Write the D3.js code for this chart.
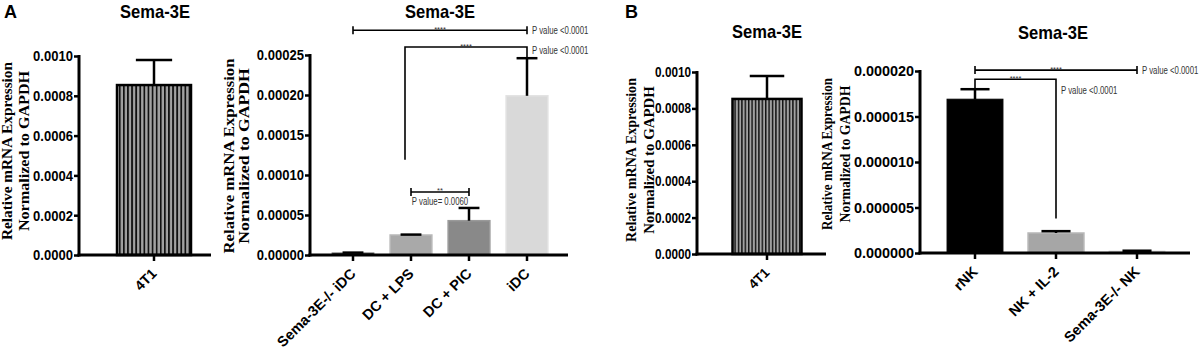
<!DOCTYPE html>
<html>
<head>
<meta charset="utf-8">
<script src="https://cdn.jsdelivr.net/npm/d3@7"></script>
<style>
  body { margin: 0; background: #fff; }
  svg { display: block; }
  text { font-family: "Liberation Sans", Arial, Helvetica, sans-serif; }
  .ylab { font-family: "Liberation Serif", "Times New Roman", serif; font-weight: bold; }
</style>
</head>
<body>
<div class="container"></div>
<script>
const WIDTH = 1199;
const HEIGHT = 352;

// A, left: 4T1
const a1Cats = ["4T1"];
const a1Vals = [0.000854];
const a1ErrTop = [0.00098];
const a1Ticks = [0, 0.0002, 0.0004, 0.0006, 0.0008, 0.0010];

// A, right: dendritic cells
const a2Cats = ["Sema-3E-/- iDC", "DC + LPS", "DC + PIC", "iDC"];
const a2Vals = [0.0000025, 0.000025, 0.0000429, 0.000199];
const a2ErrTop = [0.000003, 0.0000255, 0.0000588, 0.000246];
const a2Ticks = [0, 0.00005, 0.00010, 0.00015, 0.00020, 0.00025];
const a2Sig = [
    { from: "Sema-3E-/- iDC", to: "iDC", y: 0.000281, stars: "****", p: "P value <0.0001", pos: "right" },
    { from: "DC + LPS", to: "iDC", y: 0.00026, leg1: 0.000119, leg2: 0.000246, stars: "****", p: "P value <0.0001", pos: "rightLow" },
    { from: "DC + LPS", to: "DC + PIC", y: 0.0000788, stars: "**", p: "P value= 0.0060", pos: "below" }
];

// B, left: 4T1
const b1Cats = ["4T1"];
const b1Vals = [0.000852];
const b1ErrTop = [0.000978];
const b1Ticks = [0, 0.0002, 0.0004, 0.0006, 0.0008, 0.0010];

// B, right: NK cells
const b2Cats = ["rNK", "NK + IL-2", "Sema-3E-/- NK"];
const b2Vals = [0.0000169, 0.0000022, 0.0000002];
const b2ErrTop = [0.0000180, 0.0000024, 0.00000025];
const b2Ticks = [0, 0.000005, 0.000010, 0.000015, 0.000020];
const b2Sig = [
    { from: "rNK", to: "Sema-3E-/- NK", y: 0.0000201, stars: "****", p: "P value <0.0001", pos: "right" },
    { from: "rNK", to: "NK + IL-2", y: 0.0000191, leg1: 0.0000180, leg2: 0.0000038, stars: "****", p: "P value <0.0001", pos: "rightFar" }
];

var translate = function(x, y) {
    return `translate(${x},${y})`;
};

var svg = d3.select('.container').append('svg')
    .attr('width', WIDTH)
    .attr('height', HEIGHT);

var defs = svg.append('defs');
var addStripes = function(id, period) {
    var pat = defs.append('pattern')
        .attr('id', id)
        .attr('patternUnits', 'userSpaceOnUse')
        .attr('width', period)
        .attr('height', 10);
    pat.append('rect').attr('width', period).attr('height', 10).attr('fill', '#a2a2a2');
    pat.append('rect').attr('width', period * 0.42).attr('height', 10).attr('fill', '#111');
};
addStripes('stripesA', 4.1);
addStripes('stripesB', 3.4);

var drawPanel = function(p) {
    var g = svg.append('g');

    let yScale = d3.scaleLinear()
        .domain([0, p.ymax])
        .range([p.yBase, p.yTop]);

    let xScale = d3.scaleBand()
        .domain(p.cats)
        .range(p.band)
        .paddingInner(p.pad)
        .paddingOuter(p.pad / 2);

    var bw = xScale.bandwidth();
    var cx = (d) => xScale(d) + bw / 2;

    // bars
    g.selectAll('rect.bar').data(p.cats).enter()
        .append('rect')
        .classed('bar', true)
        .attr('x', (d) => xScale(d))
        .attr('width', bw)
        .attr('y', (d, i) => yScale(p.vals[i]))
        .attr('height', (d, i) => yScale(0) - yScale(p.vals[i]))
        .attr('fill', (d, i) => p.fills[i])
        .attr('stroke', (d, i) => p.strokes[i])
        .attr('stroke-width', (d, i) => p.strokeW[i]);

    // error bars
    var eb = g.selectAll('g.err').data(p.cats).enter().append('g');
    eb.append('line')
        .attr('x1', cx).attr('x2', cx)
        .attr('y1', (d, i) => yScale(p.vals[i]))
        .attr('y2', (d, i) => yScale(p.errTop[i]))
        .attr('stroke', '#000').attr('stroke-width', 2.5);
    eb.append('line')
        .attr('x1', (d) => cx(d) - bw * p.cap / 2)
        .attr('x2', (d) => cx(d) + bw * p.cap / 2)
        .attr('y1', (d, i) => yScale(p.errTop[i]))
        .attr('y2', (d, i) => yScale(p.errTop[i]))
        .attr('stroke', '#000').attr('stroke-width', 2.5);

    // y axis
    let yAxis = d3.axisLeft(yScale)
        .tickValues(p.ticks)
        .tickFormat(d3.format(p.fmt))
        .tickSize(5)
        .tickSizeOuter(0);
    var ya = g.append('g')
        .attr('transform', translate(p.axisX, 0))
        .call(yAxis);
    ya.select('.domain').attr('stroke-width', 3).attr('d', `M0,${p.yBase + 1.5}V${p.yTop - 1}`);
    ya.selectAll('.tick line').attr('stroke-width', 2.5);
    ya.selectAll('.tick text')
        .attr('font-family', '"Liberation Sans", Arial, sans-serif')
        .attr('font-weight', 'bold')
        .attr('font-size', p.tickFont)
        .attr('x', 0)
        .attr('transform', `translate(-6,0) scale(${p.tickSx},1)`)
        .attr('fill', '#000');

    // x axis
    let xAxis = d3.axisBottom(xScale).tickSize(6).tickSizeOuter(0);
    var xa = g.append('g')
        .attr('transform', translate(0, p.yBase))
        .call(xAxis);
    xa.select('.domain').remove();
    xa.append('line')
        .attr('x1', p.axisX - 1.5).attr('x2', p.xEnd)
        .attr('stroke', '#000').attr('stroke-width', 3);
    xa.selectAll('.tick line').attr('stroke-width', 2.5);
    xa.selectAll('.tick text')
        .attr('font-family', '"Liberation Sans", Arial, sans-serif')
        .attr('font-weight', 'bold')
        .attr('font-size', p.catFont)
        .attr('fill', '#000')
        .attr('text-anchor', 'end')
        .attr('x', 0).attr('y', 0).attr('dy', '0.35em')
        .attr('transform', 'translate(0,16) rotate(-45)');

    // title
    g.append('text')
        .attr('transform', translate(p.titleX, p.titleY) + ' scale(0.92,1)')
        .attr('text-anchor', 'middle')
        .attr('font-weight', 'bold')
        .attr('font-size', 18)
        .text('Sema-3E');

    // y label
    var yl = g.append('text')
        .classed('ylab', true)
        .attr('font-size', 14)
        .attr('text-anchor', 'middle')
        .attr('transform', translate(p.ylabX, p.ylabY) + ' rotate(-90)');
    yl.append('tspan').attr('x', 0).attr('y', 0)
        .attr('textLength', p.ylabLen).attr('lengthAdjust', 'spacingAndGlyphs')
        .text('Relative mRNA Expression');
    yl.append('tspan').attr('x', 0).attr('y', p.ylabGap)
        .attr('textLength', p.ylabLen * 0.9).attr('lengthAdjust', 'spacingAndGlyphs')
        .text('Normalized to GAPDH');

    // significance brackets
    (p.sig || []).forEach(function(s) {
        var x1 = cx(s.from) + (s.leg1 !== undefined && s.from === "DC + LPS" ? -6 : 0);
        var x2 = cx(s.to);
        var yy = yScale(s.y);
        if (s.leg1 !== undefined) {
            g.append('path')
                .attr('d', `M${x1},${yScale(s.leg1)}V${yy}H${x2}V${yScale(s.leg2)}`)
                .attr('fill', 'none').attr('stroke', '#000').attr('stroke-width', 1.6);
        } else {
            g.append('path')
                .attr('d', `M${x1},${yy}H${x2}M${x1},${yy - 4}V${yy + 4}M${x2},${yy - 4}V${yy + 4}`)
                .attr('fill', 'none').attr('stroke', '#000').attr('stroke-width', 1.6);
        }
        g.append('text')
            .attr('x', (x1 + x2) / 2).attr('y', yy + 1.5)
            .attr('text-anchor', 'middle')
            .attr('font-size', 7.5)
            .attr('fill', '#333')
            .text(s.stars);
        var px = x2 + 5, py = yy, anchor = 'start';
        if (s.pos === 'rightLow') { py = yy + 3; }
        if (s.pos === 'rightFar') { py = yy + 11; }
        if (s.pos === 'below') { px = (x1 + x2) / 2; py = yy + 10; anchor = 'middle'; }
        g.append('text')
            .attr('transform', translate(px, py) + ' scale(0.78,1)')
            .attr('dy', '0.35em')
            .attr('text-anchor', anchor)
            .attr('font-size', 10)
            .attr('fill', '#333')
            .text(s.p);
    });
};

window.onload = function() {
    drawPanel({
        cats: a1Cats, vals: a1Vals, errTop: a1ErrTop, ticks: a1Ticks, ymax: 0.001, fmt: '.4f',
        yBase: 255, yTop: 56, band: [104, 204], pad: 0.26, cap: 0.49,
        axisX: 79, xEnd: 211, tickFont: 15, tickSx: 0.87, catFont: 14,
        fills: ['url(#stripesA)'], strokes: ['#000'], strokeW: [2.5],
        titleX: 155, titleY: 18, ylabX: 12, ylabY: 151, ylabLen: 178, ylabGap: 16.5
    });
    drawPanel({
        cats: a2Cats, vals: a2Vals, errTop: a2ErrTop, ticks: a2Ticks, ymax: 0.00025, fmt: '.5f',
        yBase: 255, yTop: 55, band: [324, 556], pad: 0.28, cap: 0.5,
        axisX: 310, xEnd: 568, tickFont: 15, tickSx: 0.87, catFont: 14.5,
        fills: ['#1a1a1a', '#a9a9a9', '#898989', '#d9d9d9'],
        strokes: ['#555', '#b8b8b8', '#9a9a9a', '#e2e2e2'], strokeW: [1, 1.5, 1.5, 1.5],
        titleX: 440, titleY: 18, ylabX: 234, ylabY: 156, ylabLen: 195, ylabGap: 15,
        sig: a2Sig
    });
    drawPanel({
        cats: b1Cats, vals: b1Vals, errTop: b1ErrTop, ticks: b1Ticks, ymax: 0.001, fmt: '.4f',
        yBase: 254, yTop: 72, band: [717, 817], pad: 0.31, cap: 0.5,
        axisX: 697, xEnd: 826, tickFont: 14, tickSx: 0.84, catFont: 13.5,
        fills: ['url(#stripesB)'], strokes: ['#000'], strokeW: [2.5],
        titleX: 767, titleY: 38, ylabX: 636, ylabY: 160, ylabLen: 164, ylabGap: 17.5
    });
    drawPanel({
        cats: b2Cats, vals: b2Vals, errTop: b2ErrTop, ticks: b2Ticks, ymax: 0.00002, fmt: '.6f',
        yBase: 253, yTop: 71, band: [934.5, 1177.5], pad: 0.31, cap: 0.52,
        axisX: 920, xEnd: 1190, tickFont: 15.5, tickSx: 0.93, catFont: 14.5,
        fills: ['#000', '#a6a6a6', '#c4c4c4'], strokes: ['#000', '#b8b8b8', '#d0d0d0'], strokeW: [1, 1.5, 1],
        titleX: 1053, titleY: 39, ylabX: 832, ylabY: 154, ylabLen: 152, ylabGap: 17.5,
        sig: b2Sig
    });

    svg.append('text').attr('x', 4).attr('y', 18)
        .attr('font-weight', 'bold').attr('font-size', 18).text('A');
    svg.append('text').attr('x', 625).attr('y', 18)
        .attr('font-weight', 'bold').attr('font-size', 18).text('B');
};
</script>
</body>
</html>
